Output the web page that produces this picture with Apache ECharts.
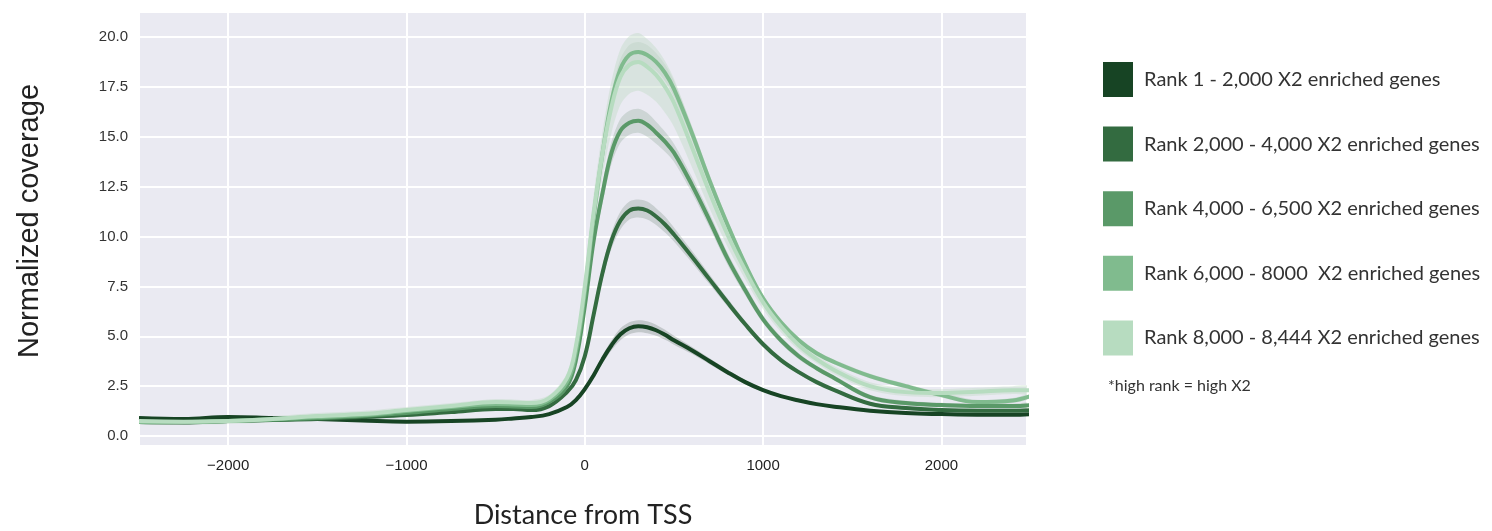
<!DOCTYPE html>
<html>
<head>
<meta charset="utf-8">
<script src="https://cdn.jsdelivr.net/npm/echarts@6/dist/echarts.min.js"></script>
<style>
  html, body { margin: 0; padding: 0; background: #fff; }
  #main { width: 1492px; height: 531px; }
</style>
</head>
<body>
<div id="main"></div>
<script>
// distance from TSS (x positions of the sampled profile)
const distance = [-2500, -2250, -2000, -1750, -1500, -1250, -1000, -750, -500, -400, -300, -200, -100, -50, 0, 50, 100, 150, 200, 250, 300, 350, 400, 450, 500, 600, 700, 800, 900, 1000, 1100, 1200, 1300, 1400, 1600, 1800, 2000, 2200, 2400, 2500];

// normalized coverage per rank group
const rank1 = [0.9, 0.85, 0.95, 0.9, 0.85, 0.78, 0.72, 0.75, 0.82, 0.88, 0.95, 1.1, 1.45, 1.8, 2.35, 3.05, 3.85, 4.55, 5.1, 5.4, 5.5, 5.45, 5.3, 5.07, 4.8, 4.3, 3.75, 3.2, 2.7, 2.3, 2.0, 1.78, 1.6, 1.47, 1.27, 1.15, 1.1, 1.07, 1.07, 1.1];
const rank2 = [0.7, 0.68, 0.75, 0.8, 0.85, 0.95, 1.05, 1.2, 1.35, 1.35, 1.3, 1.5, 2.2, 2.8, 4.0, 6.1, 8.2, 9.8, 10.8, 11.3, 11.4, 11.3, 11.0, 10.6, 10.1, 9.0, 7.85, 6.7, 5.6, 4.6, 3.8, 3.2, 2.7, 2.3, 1.62, 1.4, 1.3, 1.27, 1.27, 1.3];
const rank3 = [0.7, 0.7, 0.75, 0.82, 0.9, 1.0, 1.15, 1.35, 1.5, 1.48, 1.45, 1.7, 2.5, 3.8, 6.5, 9.8, 12.2, 14.2, 15.3, 15.7, 15.8, 15.6, 15.2, 14.75, 14.2, 12.6, 10.8, 8.9, 7.3, 5.85, 4.8, 4.0, 3.4, 2.9, 1.95, 1.65, 1.55, 1.5, 1.5, 1.55];
const rank4 = [0.7, 0.7, 0.75, 0.85, 0.95, 1.05, 1.25, 1.45, 1.6, 1.58, 1.55, 1.8, 2.7, 4.2, 7.2, 11.0, 14.2, 16.8, 18.4, 19.1, 19.25, 19.1, 18.75, 18.2, 17.4, 15.2, 12.8, 10.6, 8.6, 6.9, 5.7, 4.8, 4.15, 3.7, 3.0, 2.5, 2.05, 1.7, 1.78, 2.0];
const rank5 = [0.75, 0.72, 0.75, 0.85, 1.0, 1.1, 1.3, 1.5, 1.7, 1.68, 1.65, 1.9, 2.9, 4.5, 7.5, 11.2, 14.2, 16.5, 18.0, 18.6, 18.75, 18.5, 18.1, 17.5, 16.7, 14.5, 12.2, 10.1, 8.3, 6.7, 5.5, 4.55, 3.85, 3.3, 2.5, 2.2, 2.15, 2.22, 2.3, 2.3];

// half width of the shaded confidence band
const band1 = [0.06, 0.06, 0.06, 0.06, 0.06, 0.06, 0.06, 0.06, 0.06, 0.06, 0.06, 0.06, 0.08, 0.1, 0.12, 0.15, 0.2, 0.25, 0.3, 0.3, 0.3, 0.3, 0.28, 0.25, 0.22, 0.18, 0.15, 0.12, 0.1, 0.08, 0.07, 0.07, 0.06, 0.06, 0.06, 0.06, 0.06, 0.06, 0.06, 0.06];
const band2 = [0.07, 0.07, 0.07, 0.07, 0.07, 0.07, 0.07, 0.07, 0.07, 0.07, 0.07, 0.07, 0.1, 0.15, 0.2, 0.3, 0.35, 0.4, 0.45, 0.45, 0.45, 0.45, 0.42, 0.4, 0.35, 0.3, 0.25, 0.2, 0.15, 0.12, 0.1, 0.1, 0.08, 0.08, 0.08, 0.08, 0.08, 0.08, 0.08, 0.08];
const band3 = [0.1, 0.1, 0.1, 0.1, 0.1, 0.1, 0.1, 0.1, 0.1, 0.1, 0.1, 0.1, 0.15, 0.2, 0.3, 0.4, 0.5, 0.55, 0.6, 0.6, 0.6, 0.6, 0.55, 0.5, 0.45, 0.4, 0.35, 0.3, 0.25, 0.2, 0.17, 0.15, 0.12, 0.12, 0.12, 0.12, 0.12, 0.12, 0.12, 0.12];
const band4 = [0.1, 0.1, 0.1, 0.1, 0.1, 0.1, 0.1, 0.1, 0.1, 0.1, 0.1, 0.1, 0.15, 0.2, 0.3, 0.35, 0.4, 0.45, 0.5, 0.5, 0.5, 0.5, 0.45, 0.42, 0.4, 0.35, 0.3, 0.25, 0.2, 0.18, 0.16, 0.15, 0.12, 0.12, 0.12, 0.12, 0.12, 0.12, 0.12, 0.12];
const band5 = [0.15, 0.15, 0.15, 0.15, 0.15, 0.15, 0.15, 0.15, 0.15, 0.15, 0.15, 0.15, 0.25, 0.4, 0.6, 0.9, 1.1, 1.3, 1.4, 1.45, 1.45, 1.4, 1.35, 1.3, 1.2, 1.0, 0.8, 0.6, 0.45, 0.35, 0.3, 0.25, 0.2, 0.2, 0.2, 0.2, 0.2, 0.2, 0.2, 0.2];

const rankNames = [
  'Rank 1 - 2,000 X2 enriched genes',
  'Rank 2,000 - 4,000 X2 enriched genes',
  'Rank 4,000 - 6,500 X2 enriched genes',
  'Rank 6,000 - 8000  X2 enriched genes',
  'Rank 8,000 - 8,444 X2 enriched genes'
];

const lineColors = ['#174424', '#336b40', '#5a9968', '#80bb8e', '#b7dcc0'];
const bandColors = ['rgba(60,80,65,0.22)', 'rgba(70,100,80,0.2)', 'rgba(90,130,100,0.2)', 'rgba(130,170,140,0.22)', 'rgba(195,220,200,0.45)'];

const profiles = [rank1, rank2, rank3, rank4, rank5];
const bands = [band1, band2, band3, band4, band5];

const chart = echarts.init(document.getElementById('main'));

// one polygon per group: upper edge forward, lower edge back
const bandSeries = profiles.map((vals, k) => ({
  type: 'custom',
  name: 'band' + k,
  silent: true,
  clip: true,
  z: 1,
  data: [[distance[0], vals[0]]],
  encode: { x: 0, y: 1 },
  renderItem: function (params, api) {
    const upper = distance.map((d, i) => api.coord([d, vals[i] + bands[k][i]]));
    const lower = distance.map((d, i) => api.coord([d, vals[i] - bands[k][i]])).reverse();
    return {
      type: 'polygon',
      shape: { points: upper.concat(lower), smooth: 0.3 },
      style: { fill: bandColors[k], stroke: null }
    };
  }
}));

const lineSeries = profiles.map((vals, k) => ({
  type: 'line',
  name: rankNames[k],
  data: distance.map((d, i) => [d, vals[i]]),
  smooth: 0.4,
  showSymbol: false,
  z: 2 + k,
  color: lineColors[k],
  itemStyle: { color: lineColors[k] },
  lineStyle: { color: lineColors[k], width: 4 }
}));

const option = {
  animation: false,
  backgroundColor: '#ffffff',
  grid: {
    left: 139,
    right: 465,
    top: 12,
    bottom: 85,
    outerBoundsMode: 'none',
    show: true,
    backgroundColor: '#eaeaf2',
    borderWidth: 0
  },
  xAxis: {
    type: 'value',
    min: -2500,
    max: 2480,
    minInterval: 1000,
    maxInterval: 1000,
    splitNumber: 5,
    axisLine: { show: false },
    axisTick: { show: false },
    splitLine: { lineStyle: { color: '#ffffff', width: 2 } },
    axisLabel: {
      showMinLabel: false,
      showMaxLabel: false,
      margin: 12,
      fontFamily: '"Liberation Sans Narrow", "Liberation Sans", sans-serif',
      fontSize: 15,
      color: '#222',
      formatter: v => (v < 0 ? '\u2212' + Math.abs(v) : String(v))
    },
    name: 'Distance from TSS',
    nameLocation: 'middle',
    nameGap: 56,
    nameTextStyle: { fontFamily: 'Lato, "Open Sans", sans-serif', fontSize: 27, color: '#222' }
  },
  yAxis: {
    type: 'value',
    min: -0.5,
    max: 21.25,
    minInterval: 2.5,
    maxInterval: 2.5,
    splitNumber: 9,
    axisLine: { show: false },
    axisTick: { show: false },
    splitLine: { lineStyle: { color: '#ffffff', width: 2 } },
    axisLabel: {
      showMinLabel: false,
      showMaxLabel: false,
      margin: 11,
      fontFamily: '"Liberation Sans", Arial, sans-serif',
      fontSize: 15,
      color: '#333',
      formatter: v => v.toFixed(1)
    }
  },
  legend: {
    data: rankNames,
    orient: 'vertical',
    left: 1103,
    top: 62,
    padding: 0,
    icon: 'rect',
    itemWidth: 30,
    itemHeight: 35,
    itemGap: 29.6,
    selectedMode: false,
    textStyle: {
      fontFamily: 'Lato, "Open Sans", sans-serif',
      fontSize: 20,
      color: '#333',
      padding: [0, 0, 0, 6]
    }
  },
  graphic: [
    {
      type: 'text',
      x: 30,
      y: 221,
      rotation: Math.PI / 2,
      style: {
        text: 'Normalized coverage',
        font: '29px "Liberation Sans", Arial, sans-serif',
        fill: '#222',
        align: 'center',
        verticalAlign: 'middle'
      }
    },
    {
      type: 'text',
      x: 1108,
      y: 386,
      style: {
        text: '*high rank = high X2',
        font: '16px Lato, "Open Sans", sans-serif',
        fill: '#333',
        align: 'left',
        verticalAlign: 'middle'
      }
    }
  ],
  series: bandSeries.concat(lineSeries)
};

chart.setOption(option);
</script>
</body>
</html>
